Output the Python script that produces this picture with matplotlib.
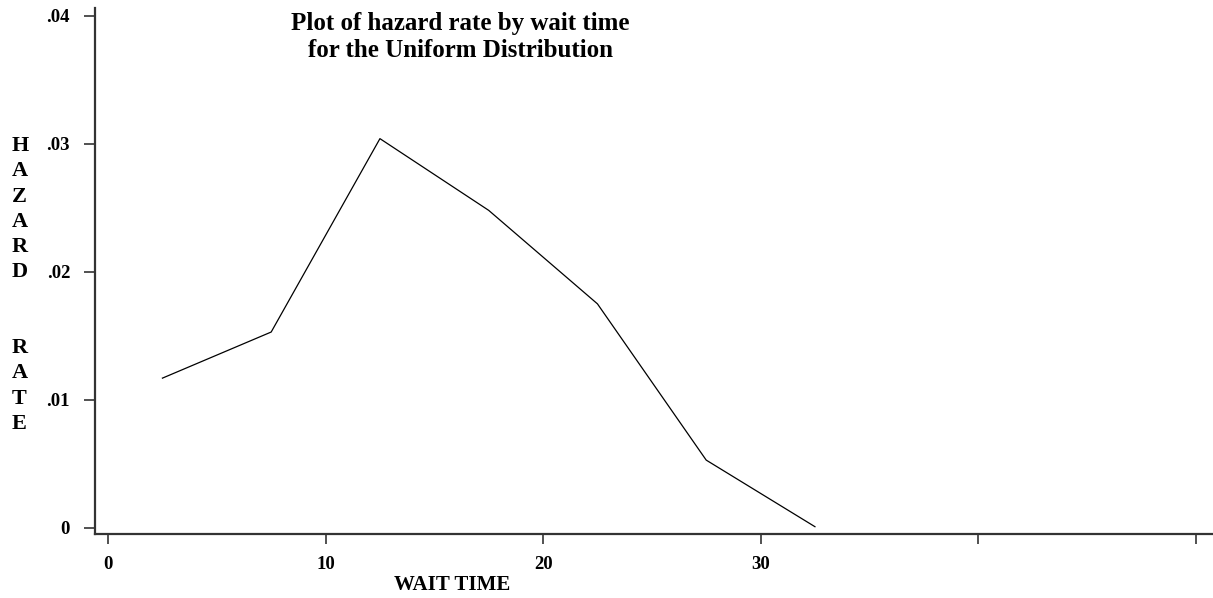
import matplotlib
matplotlib.use("Agg")
import matplotlib.pyplot as plt

# hazard rate at the midpoint of each 5-unit wait-time interval
wait_time = [2.5, 7.5, 12.5, 17.5, 22.5, 27.5, 32.5]
hazard_rate = [0.0117, 0.0153, 0.0304, 0.0248, 0.0175, 0.0053, 0.0001]

x_ticks = [0, 10, 20, 30, 40, 50]
x_tick_labels = ["0", "10", "20", "30", "", ""]
y_ticks = [0, 0.01, 0.02, 0.03, 0.04]
y_tick_labels = ["0", ".01", ".02", ".03", ".04"]

plt.rcParams["font.family"] = ["Liberation Serif", "DejaVu Serif"]
plt.rcParams["font.weight"] = "bold"

fig = plt.figure(figsize=(12.13, 5.98), dpi=100)
ax = fig.add_axes([95 / 1213, 1 - 534 / 598, 1118 / 1213, 526 / 598])

ax.plot(wait_time, hazard_rate, color="black", linewidth=0.9)

ax.set_xlim(-0.6, 50.8)
ax.set_ylim(-0.00047, 0.0406)
ax.set_xticks(x_ticks)
ax.set_xticklabels(x_tick_labels, fontsize=13.5, fontweight="bold")
ax.set_yticks(y_ticks)
ax.set_yticklabels(y_tick_labels, fontsize=13.5, fontweight="bold")
ax.tick_params(axis="x", length=7, width=1.2, color="#333333", pad=9)
ax.tick_params(axis="y", length=8, width=1.2, color="#333333", pad=10)

for side in ["top", "right"]:
    ax.spines[side].set_visible(False)
for side in ["left", "bottom"]:
    ax.spines[side].set_linewidth(1.6)
    ax.spines[side].set_color("#333333")

fig.text(460 / 1213, 1 - 37 / 598, "Plot of hazard rate by wait time\nfor the Uniform Distribution",
         ha="center", va="center", fontsize=18, fontweight="bold", linespacing=1.2)
fig.text(452 / 1213, 1 - 585 / 598, "WAIT TIME", ha="center", va="center",
         fontsize=15, fontweight="bold")
fig.text(12 / 1213, 1 - 136 / 598, "H\nA\nZ\nA\nR\nD\n\n\nR\nA\nT\nE",
         ha="left", va="top", fontsize=16, fontweight="bold", linespacing=1.35)

fig.savefig("out.png", dpi=100)
